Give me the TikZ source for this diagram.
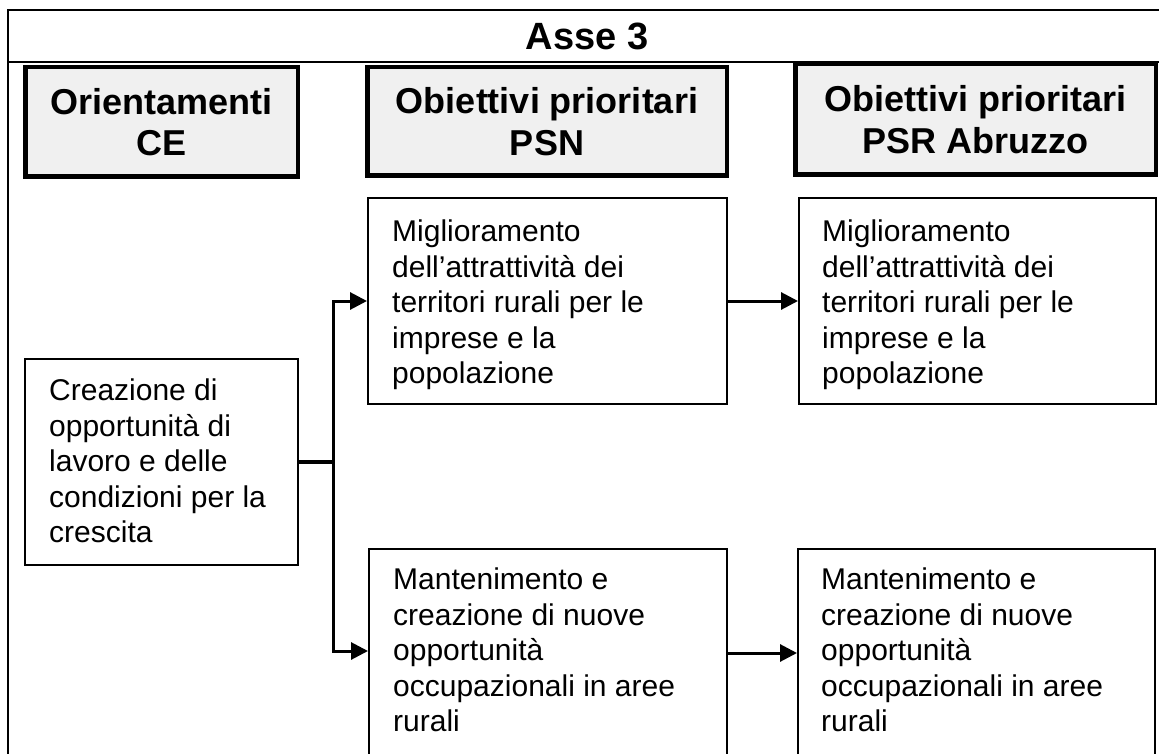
\documentclass[tikz,border=0pt]{standalone}
\usepackage{fontspec}
\setmainfont{Liberation Sans}
\usetikzlibrary{arrows.meta}
\begin{document}
\begin{tikzpicture}[x=1pt,y=-1pt,
  hdr/.style={draw=black, line width=4.5pt, fill=black!6, inner sep=0pt,
    font=\bfseries\fontsize{36}{41.4}\selectfont, align=center},
  bodybox/.style={draw=black, line width=2pt, inner sep=0pt},
  txt/.style={anchor=north west, inner sep=0pt, align=left,
    font=\fontsize{30}{35.5}\selectfont},
  conn/.style={line width=3pt, -{Triangle[length=17pt,width=17pt]}},
  frameline/.style={line width=2pt},
]
\useasboundingbox (0,0) rectangle (1159,754);
\clip (0,0) rectangle (1159,754);

% frame
\draw[frameline] (8,800) -- (8,10) -- (1200,10);
\draw[frameline] (8,62.5) -- (1200,62.5);

% title
\node[font=\bfseries\fontsize{38}{44}\selectfont, inner sep=0pt] (title) at (587,36.7) {Asse 3};

% headers
\node[hdr, minimum width=272.5pt, minimum height=109.5pt] (H1) at (161.5,122) {Orientamenti\\CE};
\node[hdr, minimum width=359.5pt, minimum height=108.5pt] (H2) at (547,121.5) {Obiettivi prioritari\\PSN};
\node[hdr, minimum width=360.5pt, minimum height=110.5pt] (H3) at (975.5,119.5) {Obiettivi prioritari\\PSR Abruzzo};

% body boxes
\node[bodybox, minimum width=273pt, minimum height=206pt] (C) at (161.5,462) {};
\node[bodybox, minimum width=359pt, minimum height=206pt] (P1) at (547.5,301) {};
\node[bodybox, minimum width=358pt, minimum height=251pt] (P2) at (548,674.5) {};
\node[bodybox, minimum width=357pt, minimum height=206pt] (R1) at (977.5,301) {};
\node[bodybox, minimum width=357pt, minimum height=251pt] (R2) at (976.5,674.5) {};

% texts
\node[txt] (tC) at (49,379) {Creazione di\\opportunità di\\lavoro e delle\\condizioni per la\\crescita};
\node[txt] (tP1) at (392,220) {Miglioramento\\dell’attrattività dei\\territori rurali per le\\imprese e la\\popolazione};
\node[txt] (tR1) at (822,220) {Miglioramento\\dell’attrattività dei\\territori rurali per le\\imprese e la\\popolazione};
\node[txt] (tP2) at (393,568) {Mantenimento e\\creazione di nuove\\opportunità\\occupazionali in aree\\rurali};
\node[txt] (tR2) at (821,568) {Mantenimento e\\creazione di nuove\\opportunità\\occupazionali in aree\\rurali};

% connectors
\coordinate (j) at (333.7,462);
\coordinate (jb) at (333.7,651);
\coordinate (yb) at (0,653);
\draw[line width=3.3pt] (C.east |- j) -- (j);
\draw[conn] (j) |- (P1.west);
\draw[conn] (j) |- (P2.west |- jb);
\draw[conn] (P1.east) -- (R1.west);
\draw[conn] (P2.east |- yb) -- (R2.west |- yb);
\end{tikzpicture}
\end{document}
